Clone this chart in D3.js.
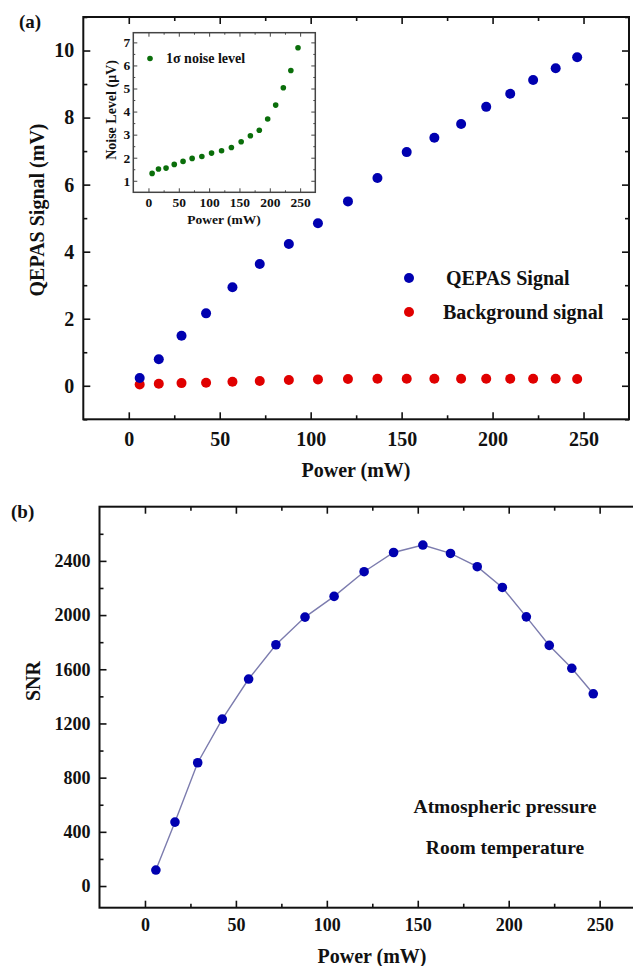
<!DOCTYPE html>
<html>
<head>
<meta charset="utf-8">
<script src="https://cdn.jsdelivr.net/npm/d3@7"></script>
<style>
  body { margin: 0; background: #fff; }
  svg { display: block; }
  text { font-family: "Liberation Serif", "Times New Roman", serif; font-weight: bold; fill: #111; }
</style>
</head>
<body>
<script>
// data
const power = [6, 16.5, 29, 42.5, 57, 72, 88, 104, 120.5, 136.7, 152.8, 168, 182.7, 196.5, 209.7, 222.3, 234.7, 246.5];
const qepasSignal = [0.23, 0.79, 1.49, 2.16, 2.94, 3.63, 4.23, 4.85, 5.5, 6.2, 6.97, 7.4, 7.81, 8.32, 8.71, 9.12, 9.47, 9.8];
const backgroundSignal = [0.04, 0.06, 0.08, 0.09, 0.12, 0.14, 0.17, 0.19, 0.2, 0.21, 0.21, 0.21, 0.21, 0.21, 0.21, 0.21, 0.21, 0.2];
const noiseLevel = [1.32, 1.51, 1.55, 1.71, 1.84, 1.97, 2.05, 2.2, 2.3, 2.44, 2.69, 2.95, 3.19, 3.68, 4.28, 5.03, 5.78, 6.77];
const snr = [118, 472, 910, 1232, 1528, 1781, 1985, 2138, 2320, 2462, 2517, 2455, 2357, 2204, 1987, 1776, 1607, 1419];

const powerTicks = [0, 50, 100, 150, 200, 250];
const powerMinor = [25, 75, 125, 175, 225];
const signalTicks = [0, 2, 4, 6, 8, 10];
const signalMinor = [-1, 1, 3, 5, 7, 9, 11];
const noiseTicks = [1, 2, 3, 4, 5, 6, 7];
const noiseMinor = [1.5, 2.5, 3.5, 4.5, 5.5, 6.5];
const snrTicks = [0, 400, 800, 1200, 1600, 2000, 2400];
const snrMinor = [200, 600, 1000, 1400, 1800, 2200, 2600];

const W = 633, H = 966;
const svg = d3.select('body').append('svg').attr('width', W).attr('height', H);
const fmt = d3.format('d');

// draws frame + inward ticks on all four sides
function frameAxes(g, x, y, w, h, o) {
  const left = g.append('g')
    .call(d3.axisLeft(y).tickValues(o.yTicks).tickFormat(fmt).tickSizeInner(-o.major).tickSizeOuter(0).tickPadding(o.padY));
  left.append('g').call(d3.axisLeft(y).tickValues(o.yMinor).tickSizeInner(-o.minor).tickSizeOuter(0).tickFormat(''));
  const bottom = g.append('g').attr('transform', `translate(0,${h})`)
    .call(d3.axisBottom(x).tickValues(o.xTicks).tickFormat(fmt).tickSizeInner(-o.major).tickSizeOuter(0).tickPadding(o.padX));
  bottom.append('g').call(d3.axisBottom(x).tickValues(o.xMinor).tickSizeInner(-o.minor).tickSizeOuter(0).tickFormat(''));
  const top = g.append('g');
  top.call(d3.axisTop(x).tickValues(o.xTicks).tickSizeInner(-o.major).tickSizeOuter(0).tickFormat(''));
  top.append('g').call(d3.axisTop(x).tickValues(o.xMinor).tickSizeInner(-o.minor).tickSizeOuter(0).tickFormat(''));
  const right = g.append('g').attr('transform', `translate(${w},0)`);
  right.call(d3.axisRight(y).tickValues(o.yTicks).tickSizeInner(-o.major).tickSizeOuter(0).tickFormat(''));
  right.append('g').call(d3.axisRight(y).tickValues(o.yMinor).tickSizeInner(-o.minor).tickSizeOuter(0).tickFormat(''));

  g.selectAll('.domain').remove();
  g.selectAll('.tick line').attr('stroke', o.color).attr('stroke-width', o.tickW);
  g.selectAll('.tick text').style('font-size', o.font + 'px').attr('fill', '#111');
  g.append('rect').attr('width', w).attr('height', h)
    .attr('fill', 'none').attr('stroke', o.color).attr('stroke-width', o.frameW);
}

// ---------- panel (a) ----------
const A = { x: 83.3, y: 17, w: 545.7, h: 402.3 };
const xa = d3.scaleLinear().domain([-25, 275]).range([0, A.w]);
const ya = d3.scaleLinear().domain([-1, 11]).range([A.h, 0]);
const ga = svg.append('g').attr('transform', `translate(${A.x},${A.y})`);

frameAxes(ga, xa, ya, A.w, A.h, {
  xTicks: powerTicks, xMinor: powerMinor, yTicks: signalTicks, yMinor: signalMinor,
  major: 7, minor: 4, padX: 13, padY: 9, font: 20, color: '#111', tickW: 1.6, frameW: 2
});

ga.selectAll('.bg').data(power).enter().append('circle')
  .attr('cx', (d) => xa(d)).attr('cy', (d, i) => ya(backgroundSignal[i]))
  .attr('r', 5).attr('fill', '#e00000');
ga.selectAll('.qs').data(power).enter().append('circle')
  .attr('cx', (d) => xa(d)).attr('cy', (d, i) => ya(qepasSignal[i]))
  .attr('r', 5).attr('fill', '#0000b0');

// legend
svg.append('circle').attr('cx', 409).attr('cy', 278).attr('r', 5).attr('fill', '#0000b0');
svg.append('text').attr('x', 446).attr('y', 285).style('font-size', '20px').text('QEPAS Signal');
svg.append('circle').attr('cx', 409).attr('cy', 312).attr('r', 5).attr('fill', '#e00000');
svg.append('text').attr('x', 443).attr('y', 319).style('font-size', '20px').text('Background signal');

svg.append('text').attr('x', 356).attr('y', 477).attr('text-anchor', 'middle')
  .style('font-size', '20px').text('Power (mW)');
svg.append('text').attr('transform', 'translate(44,210) rotate(-90)').attr('text-anchor', 'middle')
  .style('font-size', '20px').text('QEPAS Signal (mV)');
svg.append('text').attr('x', 19).attr('y', 28).style('font-size', '19px').text('(a)');

// ---------- inset ----------
const I = { x: 133.3, y: 32.7, w: 182, h: 159.6 };
const xi = d3.scaleLinear().domain([-25, 275]).range([0, I.w]);
const yi = d3.scaleLinear().domain([0.5, 7.42]).range([I.h, 0]);
const gi = svg.append('g').attr('transform', `translate(${I.x},${I.y})`);
gi.append('rect').attr('width', I.w).attr('height', I.h).attr('fill', '#fff');

frameAxes(gi, xi, yi, I.w, I.h, {
  xTicks: powerTicks, xMinor: powerMinor, yTicks: noiseTicks, yMinor: noiseMinor,
  major: 4, minor: 2, padX: 5, padY: 3, font: 13.5, color: '#444', tickW: 1, frameW: 1.5
});

gi.selectAll('.nz').data(power).enter().append('circle')
  .attr('cx', (d) => xi(d)).attr('cy', (d, i) => yi(noiseLevel[i]))
  .attr('r', 2.8).attr('fill', '#0a6e0a');

svg.append('circle').attr('cx', 150).attr('cy', 58.5).attr('r', 2.8).attr('fill', '#0a6e0a');
svg.append('text').attr('x', 166).attr('y', 63).style('font-size', '14px').text('1σ  noise level');
svg.append('text').attr('x', 224).attr('y', 224).attr('text-anchor', 'middle')
  .style('font-size', '13.5px').text('Power (mW)');
svg.append('text').attr('transform', 'translate(116,110) rotate(-90)').attr('text-anchor', 'middle')
  .style('font-size', '14px').text('Noise Level (μV)');

// ---------- panel (b) ----------
const B = { x: 99.5, y: 506.7, w: 545.6, h: 401 };
const xb = d3.scaleLinear().domain([-25, 275]).range([0, B.w]);
const yb = d3.scaleLinear().domain([-160, 2800]).range([B.h, 0]);
const gb = svg.append('g').attr('transform', `translate(${B.x},${B.y})`);

frameAxes(gb, xb, yb, B.w, B.h, {
  xTicks: powerTicks, xMinor: powerMinor, yTicks: snrTicks, yMinor: snrMinor,
  major: 7, minor: 4, padX: 11, padY: 9, font: 18, color: '#111', tickW: 1.6, frameW: 2
});

const snrLine = d3.line().x((d) => xb(d)).y((d, i) => yb(snr[i]));
gb.append('path').datum(power).attr('d', snrLine)
  .attr('fill', 'none').attr('stroke', '#7c7cae').attr('stroke-width', 1.4);
gb.selectAll('.snr').data(power).enter().append('circle')
  .attr('cx', (d) => xb(d)).attr('cy', (d, i) => yb(snr[i]))
  .attr('r', 4.8).attr('fill', '#0000b0');

svg.append('text').attr('x', 505).attr('y', 813).attr('text-anchor', 'middle')
  .style('font-size', '19.5px').text('Atmospheric pressure');
svg.append('text').attr('x', 505).attr('y', 854).attr('text-anchor', 'middle')
  .style('font-size', '19.5px').text('Room temperature');

svg.append('text').attr('x', 372).attr('y', 963).attr('text-anchor', 'middle')
  .style('font-size', '20px').text('Power (mW)');
svg.append('text').attr('transform', 'translate(40,681) rotate(-90)').attr('text-anchor', 'middle')
  .style('font-size', '20px').text('SNR');
svg.append('text').attr('x', 11).attr('y', 518).style('font-size', '19px').text('(b)');
</script>
</body>
</html>
